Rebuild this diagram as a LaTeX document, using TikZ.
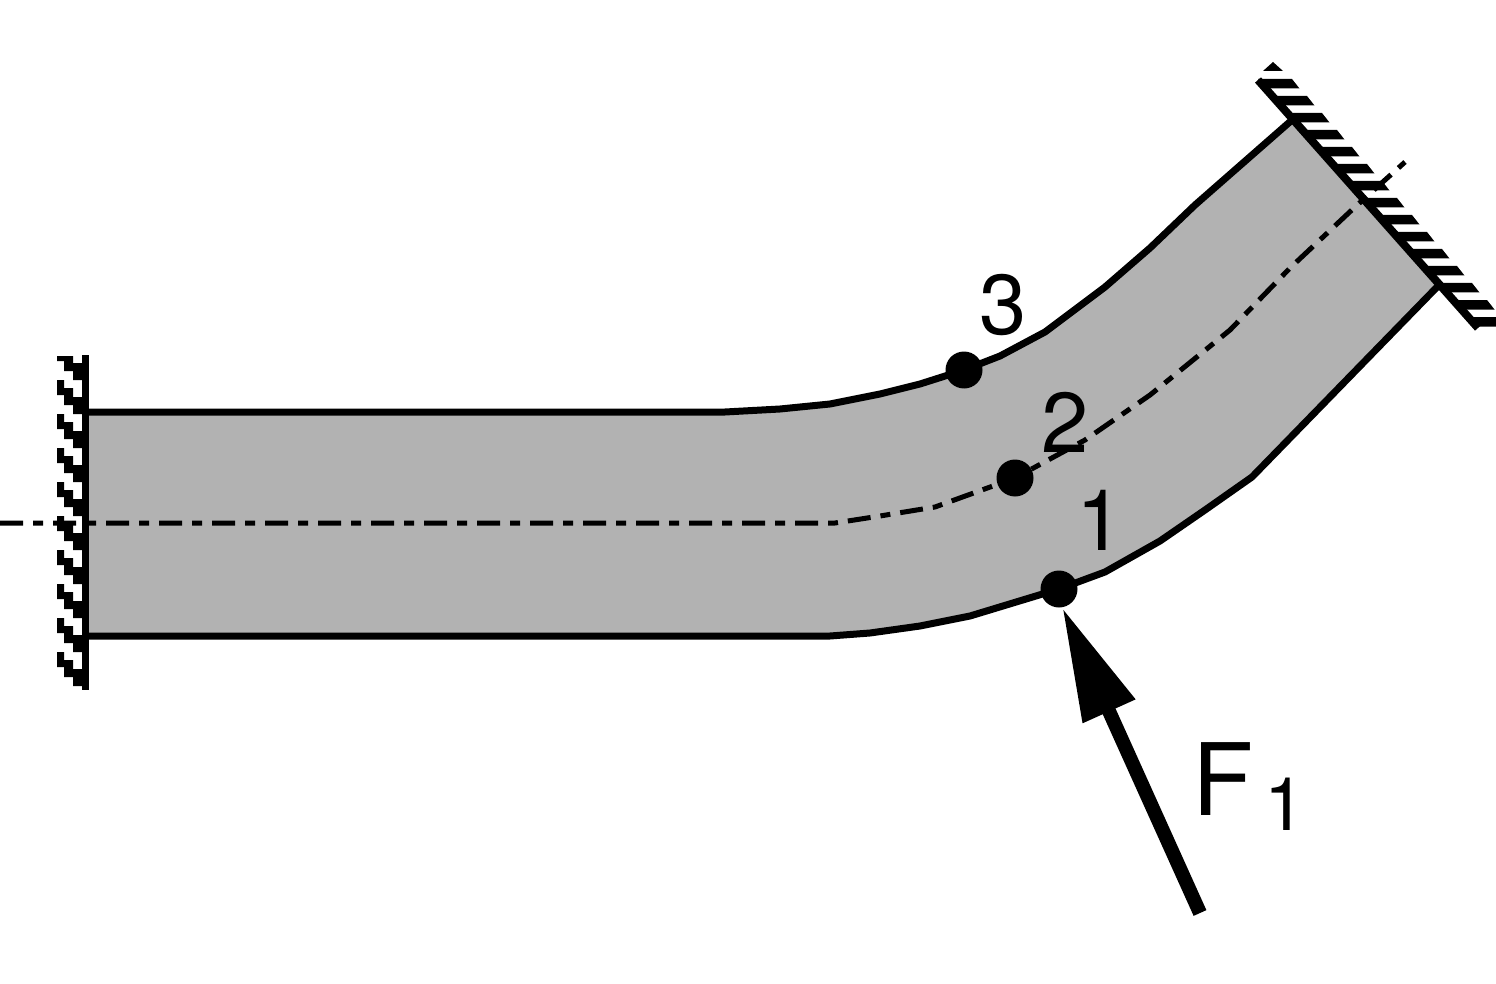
\documentclass[tikz,border=0pt]{standalone}
\usepackage{fontspec}
\setmainfont{TeX Gyre Heros}
\usetikzlibrary{arrows.meta}
\definecolor{bodygray}{RGB}{178,178,178}
\tikzset{
  outline/.style={line width=7pt,line join=round,line cap=round},
  axisline/.style={line width=5pt,dash pattern=on 23pt off 10pt on 10pt off 10pt},
  wallline/.style={line width=7pt,line cap=butt},
  slantwall/.style={line width=8pt,line cap=butt},
  pointdot/.style={circle,fill=black,minimum size=37pt,inner sep=0pt},
  numlabel/.style={anchor=base,inner sep=0pt,font=\fontsize{85}{85}\selectfont},
  forcelabel/.style={anchor=base west,inner sep=0pt,font=\fontsize{100}{100}\selectfont},
  forcearrow/.style={line width=14pt,-{Triangle[length=114pt,width=54pt]}}
}
\begin{document}
\begin{tikzpicture}[x=1pt,y=-1pt]
\useasboundingbox (0,0) rectangle (1496,984);
\clip (0,0) rectangle (1496,984);
% body
\fill[bodygray] (88,412) -- (725,412) -- (780,409) -- (830,404) -- (880,394) -- (920,384) -- (964,370) -- (1000,356) -- (1045,332) -- (1105,287) -- (1150,248) -- (1195,205) -- (1292,120) -- (1438,286) -- (1252,477) -- (1205,510) -- (1160,541) -- (1105,572) -- (1059,589) -- (970,616) -- (920,626) -- (870,633) -- (830,636) -- (88,636) -- cycle;
\draw[outline] (88,412) -- (725,412) -- (780,409) -- (830,404) -- (880,394) -- (920,384) -- (964,370) -- (1000,356) -- (1045,332) -- (1105,287) -- (1150,248) -- (1195,205) -- (1292,120);
\draw[outline] (88,636) -- (830,636) -- (870,633) -- (920,626) -- (970,616) -- (1059,589) -- (1105,572) -- (1160,541) -- (1205,510) -- (1252,477) -- (1438,286);
% left wall hatching
\begin{scope}
\clip (57,356) rectangle (88,690);
\foreach \k in {0,...,9} {
  \pgfmathsetmacro{\yy}{346+34*\k}
  \fill[black] (57,\yy) -- (64,\yy) -- ++(0,8) -- ++(9,0) -- ++(0,9) -- ++(9,0) -- ++(0,17) -- ++(-9,0) -- ++(0,-9) -- ++(-9,0) -- ++(0,-10) -- ++(-7,0) -- cycle;
}
\end{scope}
\draw[wallline] (85,355) -- (85,690);
% right wall hatching
\fill[black] (1263,71) -- (1273,62) -- (1283,71) -- cycle;
\foreach \k in {0,...,14} {
  \pgfmathsetmacro{\yy}{79+17*\k}
  \pgfmathsetmacro{\xx}{1258+15*\k}
  \fill[black] (\xx,\yy) -- ++(34,0) -- ++(7.5,9.5) -- ++(-34,0) -- cycle;
}
\draw[slantwall] (1258,80) -- (1478,328);
% centre line
\draw[axisline] (0,523) -- (835,523) -- (880,516) -- (935,507) -- (1015,478) -- (1085,440) -- (1150,395) -- (1230,330) -- (1290,268) -- (1355,207) -- (1405,162);
% points
\node[pointdot] (p3) at (964,370) {};
\node[pointdot] (p2) at (1015,478) {};
\node[pointdot] (p1) at (1059,589) {};
% labels
\node[numlabel] (n3) at (1003,334) {3};
\node[numlabel] (n2) at (1065,452) {2};
\node[numlabel] (n1) at (1100,550) {1};
\node[forcelabel] (f1) at (1192,815) {F\kern11pt\raisebox{-15pt}{\fontsize{74}{74}\selectfont 1}};
% force
\coordinate (fstart) at (1200,913);
\draw[forcearrow] (fstart) -- (p1.-80);
\end{tikzpicture}
\end{document}
